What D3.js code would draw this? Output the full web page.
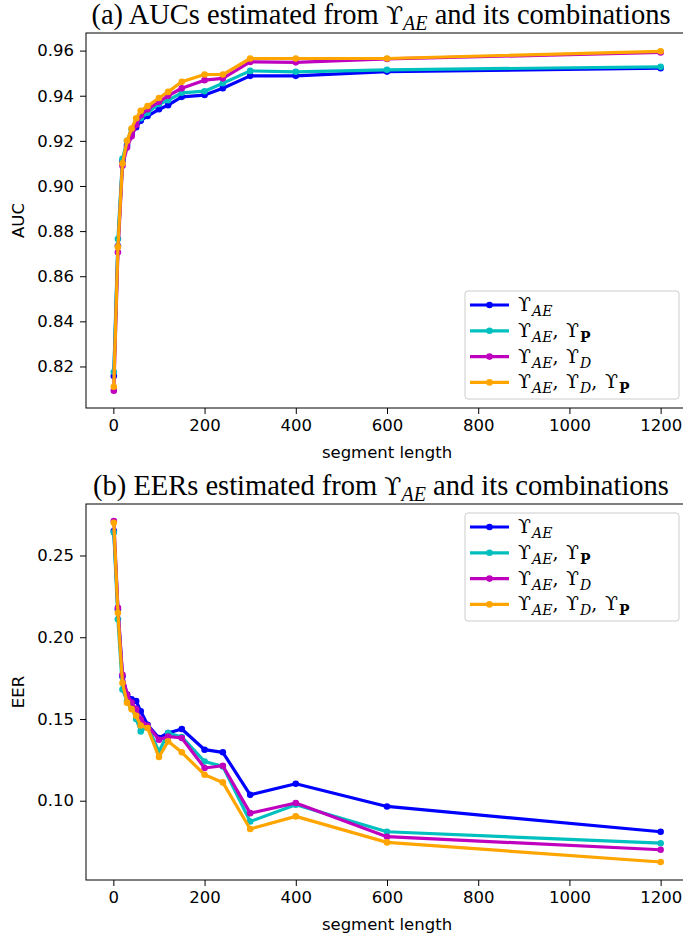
<!DOCTYPE html>
<html>
<head>
<meta charset="utf-8">
<script src="https://cdn.jsdelivr.net/npm/d3@7"></script>
<style>
  body { margin: 0; background: #fff; }
  svg { display: block; }
  .tick text { font-family: "DejaVu Sans", sans-serif; font-size: 16.5px; fill: #000; }
</style>
</head>
<body>
<div id="chart"></div>
<script>
// segment length
const segLen = [1, 10, 20, 30, 40, 50, 60, 75, 100, 120, 150, 200, 240, 300, 400, 600, 1200];

// AUC
const aucAE     = [0.8158, 0.8734, 0.9110, 0.9180, 0.9230, 0.9260, 0.9289, 0.9310, 0.9340, 0.9358, 0.9395, 0.9403, 0.9433, 0.9488, 0.9488, 0.9507, 0.9522];
const aucAE_P   = [0.8175, 0.8765, 0.9120, 0.9200, 0.9250, 0.9280, 0.9300, 0.9325, 0.9363, 0.9380, 0.9413, 0.9420, 0.9455, 0.9510, 0.9506, 0.9515, 0.9528];
const aucAE_D   = [0.8093, 0.8706, 0.9090, 0.9170, 0.9220, 0.9270, 0.9314, 0.9340, 0.9373, 0.9400, 0.9433, 0.9469, 0.9477, 0.9550, 0.9548, 0.9563, 0.9592];
const aucAE_D_P = [0.8110, 0.8730, 0.9100, 0.9200, 0.9255, 0.9300, 0.9333, 0.9354, 0.9390, 0.9417, 0.9462, 0.9494, 0.9494, 0.9565, 0.9565, 0.9565, 0.9597];

// EER
const eerAE     = [0.265, 0.217, 0.176, 0.165, 0.162, 0.161, 0.1547, 0.1465, 0.1384, 0.1414, 0.1439, 0.1312, 0.1296, 0.1036, 0.1104, 0.0965, 0.0810];
const eerAE_P   = [0.264, 0.211, 0.168, 0.161, 0.157, 0.150, 0.1424, 0.1455, 0.1300, 0.1414, 0.1390, 0.1240, 0.1210, 0.0873, 0.0975, 0.0810, 0.0740];
const eerAE_D   = [0.271, 0.218, 0.177, 0.165, 0.160, 0.156, 0.1496, 0.1459, 0.1373, 0.1393, 0.1384, 0.1200, 0.1214, 0.0924, 0.0986, 0.0780, 0.0700];
const eerAE_D_P = [0.270, 0.215, 0.172, 0.160, 0.156, 0.152, 0.1460, 0.1445, 0.1267, 0.1363, 0.1296, 0.1159, 0.1112, 0.0827, 0.0904, 0.0745, 0.0625];

const xTicks = [0, 200, 400, 600, 800, 1000, 1200];
const aucTicks = [0.82, 0.84, 0.86, 0.88, 0.90, 0.92, 0.94, 0.96];
const eerTicks = [0.10, 0.15, 0.20, 0.25];

const colors = ["#0000ff", "#00bfbf", "#bf00bf", "#ffa500"];
// legend labels: [main, subscript, style of subscript]
const legendParts = [
    [["ϒ", "AE", "i"]],
    [["ϒ", "AE", "i"], ["ϒ", "P", "b"]],
    [["ϒ", "AE", "i"], ["ϒ", "D", "i"]],
    [["ϒ", "AE", "i"], ["ϒ", "D", "i"], ["ϒ", "P", "b"]]
];

const W = 683, H = 936;
const L = 86, R = 688;
const svg = d3.select("#chart").append("svg")
    .attr("width", W).attr("height", H);

function panel(opt) {
    const x = d3.scaleLinear().domain([-60, 1260]).range([L, R]);
    const y = d3.scaleLinear().domain(opt.ydom).range([opt.bottom, opt.top]);
    const g = svg.append("g");

    // title
    const t = g.append("text")
        .attr("x", 381).attr("y", opt.top - 9)
        .attr("text-anchor", "middle")
        .style("font-family", "'Liberation Serif', 'Times New Roman', serif")
        .style("font-size", "28.5px");
    t.append("tspan").text(opt.titleA);
    t.append("tspan").style("font-family", "'DejaVu Serif', serif").style("font-size", "25px").text("ϒ");
    t.append("tspan").attr("dy", 6).style("font-style", "italic").style("font-size", "20px").text("AE");
    t.append("tspan").attr("dy", -6).text(" and its combinations");

    const clip = "clip" + opt.id;
    g.append("clipPath").attr("id", clip).append("rect")
        .attr("x", L).attr("y", opt.top).attr("width", R - L).attr("height", opt.bottom - opt.top);

    const line = d3.line().x((d, i) => x(segLen[i])).y(d => y(d));
    const plot = g.append("g").attr("clip-path", "url(#" + clip + ")");
    opt.series.forEach(function (s, k) {
        plot.append("path")
            .datum(s)
            .attr("d", line)
            .attr("fill", "none")
            .attr("stroke", colors[k])
            .attr("stroke-width", 3.2)
            .attr("stroke-linejoin", "round");
        plot.selectAll(".pt" + k)
            .data(s)
            .join("circle")
            .attr("cx", (d, i) => x(segLen[i]))
            .attr("cy", d => y(d))
            .attr("r", 3.3)
            .attr("fill", colors[k]);
    });

    // axes
    g.append("g").attr("transform", "translate(0," + opt.bottom + ")")
        .call(d3.axisBottom(x).tickValues(xTicks).tickFormat(d3.format("d")).tickSize(6).tickPadding(5))
        .call(a => a.select(".domain").remove());
    g.append("g").attr("transform", "translate(" + L + ",0)")
        .call(d3.axisLeft(y).tickValues(opt.yticks).tickFormat(opt.fmt).tickSize(6).tickPadding(6))
        .call(a => a.select(".domain").remove());
    g.append("rect")
        .attr("x", L).attr("y", opt.top)
        .attr("width", R - L).attr("height", opt.bottom - opt.top)
        .attr("fill", "none").attr("stroke", "#000").attr("stroke-width", 1);

    g.append("text")
        .attr("x", (L + R) / 2).attr("y", opt.bottom + 50)
        .attr("text-anchor", "middle")
        .style("font-family", "'DejaVu Sans', sans-serif").style("font-size", "16.5px")
        .text("segment length");
    g.append("text")
        .attr("transform", "translate(24," + ((opt.top + opt.bottom) / 2) + ") rotate(-90)")
        .attr("text-anchor", "middle")
        .style("font-family", "'DejaVu Sans', sans-serif").style("font-size", "16.5px")
        .text(opt.ylabel);

    // legend
    const lg = g.append("g");
    lg.append("rect")
        .attr("x", 465).attr("y", opt.legTop)
        .attr("width", 214).attr("height", 108).attr("rx", 3)
        .attr("fill", "#fff").attr("fill-opacity", 0.8)
        .attr("stroke", "#cccccc").attr("stroke-width", 1);
    legendParts.forEach(function (parts, k) {
        const ly = opt.legTop + 14 + k * 25.8;
        lg.append("line")
            .attr("x1", 470).attr("x2", 509).attr("y1", ly).attr("y2", ly)
            .attr("stroke", colors[k]).attr("stroke-width", 3.2);
        lg.append("circle").attr("cx", 489.5).attr("cy", ly).attr("r", 3.3).attr("fill", colors[k]);
        const tx = lg.append("text")
            .attr("x", 518).attr("y", ly + 6)
            .style("font-family", "'DejaVu Serif', 'Liberation Serif', serif")
            .style("font-size", "19px");
        parts.forEach(function (p, j) {
            if (j > 0) tx.append("tspan").attr("dy", -5).text(",\u2009\u2009");
            tx.append("tspan").text(p[0]);
            tx.append("tspan").attr("dy", 5).attr("dx", 1)
                .style("font-size", "14px")
                .style("font-style", p[2] === "i" ? "italic" : "normal")
                .style("font-weight", p[2] === "b" ? "bold" : "normal")
                .text(p[1]);
        });
    });
}

panel({
    id: "a", top: 33, bottom: 408, ydom: [0.8016, 0.9678],
    yticks: aucTicks, fmt: d3.format(".2f"), ylabel: "AUC",
    titleA: "(a) AUCs estimated from ",
    series: [aucAE, aucAE_P, aucAE_D, aucAE_D_P], legTop: 291
});
panel({
    id: "b", top: 504, bottom: 880, ydom: [0.0515, 0.2815],
    yticks: eerTicks, fmt: d3.format(".2f"), ylabel: "EER",
    titleA: "(b) EERs estimated from ",
    series: [eerAE, eerAE_P, eerAE_D, eerAE_D_P], legTop: 513
});
</script>
</body>
</html>
